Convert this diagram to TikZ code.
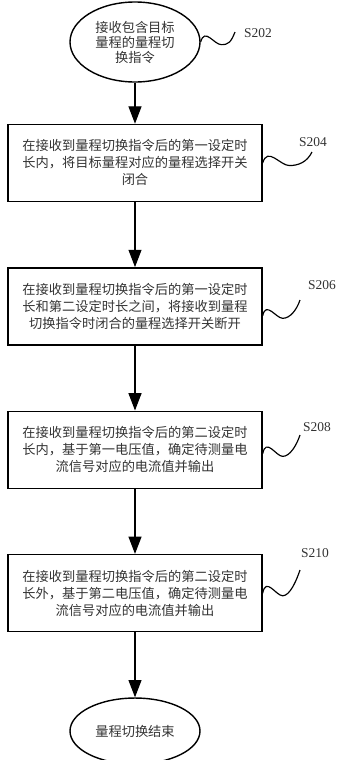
\documentclass[tikz,border=0pt]{standalone}
\usepackage{fontspec}
\setmainfont{Liberation Serif}
\newfontfamily\cjkfont{Noto Sans CJK SC}
\usetikzlibrary{arrows.meta,positioning,shapes.geometric,calc}

\begin{document}
\begin{tikzpicture}[
    procbox/.style={draw, line width=1.2pt, minimum width=7.62cm, minimum height=2.31cm,
      align=center, text=black!80, font=\cjkfont\fontsize{11.3}{14.5}\selectfont},
    termnode/.style={draw, ellipse, line width=1.2pt, minimum width=3.9cm, inner sep=0pt,
      align=center, text=black!80, font=\cjkfont\fontsize{11.3}{12.8}\selectfont},
    flow/.style={line width=1pt, -{Triangle[length=5.2mm,width=3.9mm]}},
    squig/.style={line width=1pt},
    steplabel/.style={font=\fontsize{11.5}{13}\selectfont, text=black!80}
  ]
  \useasboundingbox (0,0) rectangle (10.23,-22.8);

  % Knoten
  \node[termnode, minimum height=2.4cm] (start) at (4.05,-1.26) {接收包含目标\\量程的量程切\\换指令};
  \node[procbox, below=1.23cm of start] (s204) {在接收到量程切换指令后的第一设定时\\长内，将目标量程对应的量程选择开关\\闭合};
  \node[procbox, below=1.95cm of s204] (s206) {在接收到量程切换指令后的第一设定时\\长和第二设定时长之间，将接收到量程\\切换指令时闭合的量程选择开关断开};
  \node[procbox, below=1.95cm of s206] (s208) {在接收到量程切换指令后的第二设定时\\长内，基于第一电压值，确定待测量电\\流信号对应的电流值并输出};
  \node[procbox, below=1.95cm of s208] (s210) {在接收到量程切换指令后的第二设定时\\长外，基于第二电压值，确定待测量电\\流信号对应的电流值并输出};
  \node[termnode, minimum height=1.98cm, below=1.95cm of s210] (stop) {量程切换结束};

  % Pfeile
  \draw[flow] (start) -- (s204);
  \draw[flow] (s204) -- (s206);
  \draw[flow] (s206) -- (s208);
  \draw[flow] (s208) -- (s210);
  \draw[flow] (s210) -- (stop);

  % Schrittnummern
  \coordinate (w202) at (7.05,-0.96);
  \coordinate (w204) at (9.36,-4.56);
  \coordinate (w206) at (9.0,-9.0);
  \coordinate (w208) at (9.0,-13.05);
  \coordinate (w210) at (9.0,-17.1);
  \node[steplabel] (l202) at (7.74,-0.99) {S202};
  \node[steplabel] (l204) at (9.39,-4.26) {S204};
  \node[steplabel] (l206) at (9.66,-8.55) {S206};
  \node[steplabel] (l208) at (9.51,-12.81) {S208};
  \node[steplabel] (l210) at (9.45,-16.59) {S210};

  \draw[squig] (start.east) .. controls +(0.12,0.45) and +(-0.22,0) .. ++(0.62,-0.08)
    .. controls +(0.22,0) and +(-0.12,-0.3) .. (w202);
  \draw[squig] (s204.east) .. controls +(0.15,0.5) and +(-0.28,0) .. ++(0.8,-0.08)
    .. controls +(0.28,0) and +(-0.15,-0.3) .. (w204);
  \draw[squig] ($(s206.east)+(0,-0.28)$) .. controls +(0.1,0.45) and +(-0.2,0) .. ++(0.6,-0.08)
    .. controls +(0.22,0) and +(-0.1,-0.3) .. (w206);
  \draw[squig] ($(s208.east)+(0,-0.12)$) .. controls +(0.1,0.5) and +(-0.2,0) .. ++(0.6,-0.08)
    .. controls +(0.22,0) and +(-0.1,-0.3) .. (w208);
  \draw[squig] (s210.east) .. controls +(0.1,0.5) and +(-0.2,0) .. ++(0.6,-0.08)
    .. controls +(0.22,0) and +(-0.1,-0.3) .. (w210);
\end{tikzpicture}
\end{document}
